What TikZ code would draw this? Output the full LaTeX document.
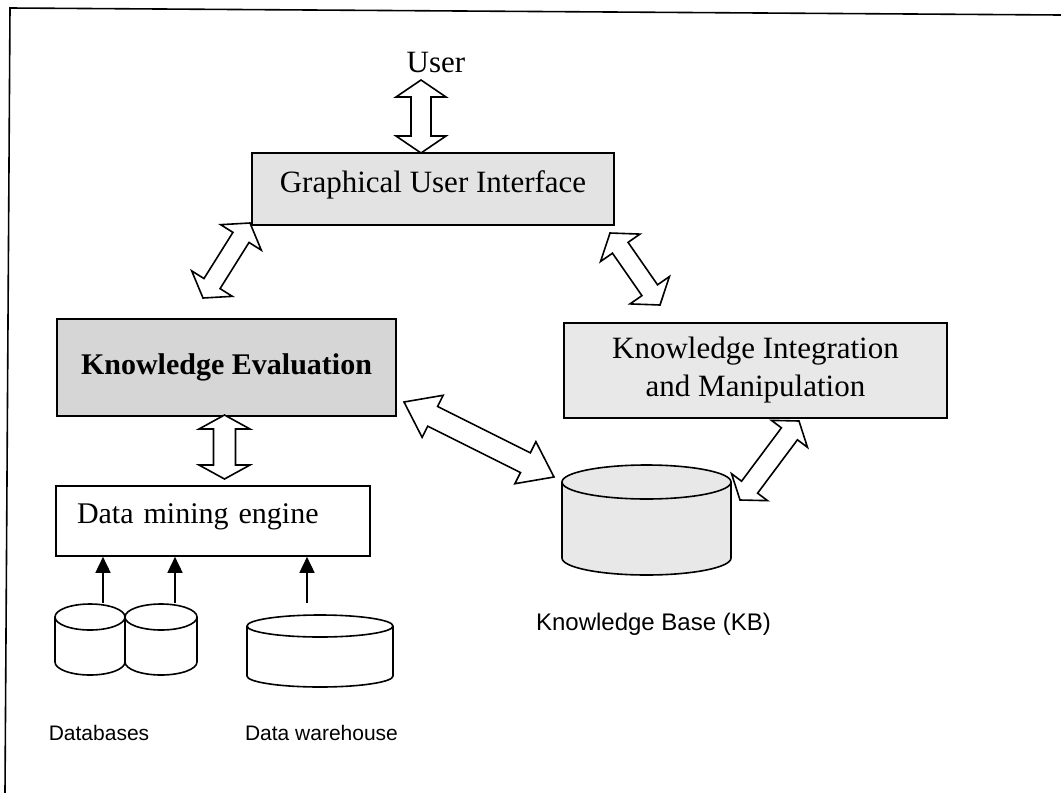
\documentclass[tikz,border=0pt]{standalone}
\usepackage{fontspec}
\setmainfont{Liberation Serif}
\setsansfont{Liberation Sans}
\usetikzlibrary{calc,arrows.meta}

% fat double arrow: #1 A, #2 B, #3 head length, #4 head half width, #5 shaft half width
\newcommand\fatarrow[5]{%
  \path ($(#1)!#3!(#2)$) coordinate (fa1) ($(#2)!#3!(#1)$) coordinate (fb1);
  \draw[fat] (#1) -- ($(fa1)!#4!90:(#2)$) -- ($(fa1)!#5!90:(#2)$)
    -- ($(fb1)!#5!-90:(#1)$) -- ($(fb1)!#4!-90:(#1)$) -- (#2)
    -- ($(fb1)!#4!90:(#1)$) -- ($(fb1)!#5!90:(#1)$)
    -- ($(fa1)!#5!-90:(#2)$) -- ($(fa1)!#4!-90:(#2)$) -- cycle;
}
% cylinder: #1 cx, #2 rx, #3 y of top ellipse centre, #4 y of bottom ellipse centre, #5 ry, #6 fill
\newcommand\cyl[6]{%
  \filldraw[cylline, fill=#6] ({#1-#2},#3) -- ({#1-#2},#4)
    arc[start angle=180,end angle=360,x radius=#2pt,y radius=#5pt]
    -- ({#1+#2},#3)
    arc[start angle=0,end angle=180,x radius=#2pt,y radius=#5pt] -- cycle;
  \draw[cylline] ({#1-#2},#3) arc[start angle=180,end angle=360,x radius=#2pt,y radius=#5pt];
}

\begin{document}
\begin{tikzpicture}[x=1pt,y=-1pt,
  box/.style={draw=black, line width=1.6pt, inner sep=0pt, text=black},
  serifbig/.style={font=\fontsize{31}{38}\selectfont},
  serifmid/.style={font=\fontsize{30}{36}\selectfont},
  sanslab/.style={font=\sffamily\fontsize{24}{28}\selectfont},
  sanssmall/.style={font=\sffamily\fontsize{21}{25}\selectfont},
  fat/.style={draw=black, fill=white, line width=1.6pt, line join=miter},
  cylline/.style={draw=black, line width=1.6pt},
  smallarr/.style={draw=black, line width=1.6pt, -{Triangle[length=16pt,width=15pt]}},
  frame/.style={draw=black, line width=1.6pt}]
\useasboundingbox (0,0) rectangle (1061,793);
\fill[white] (0,0) rectangle (1061,793);

% frame of the scanned page
\coordinate (f0) at (10,8);
\coordinate (f1) at (1061,15);
\coordinate (f2) at (5,793);
\draw[frame] (f1) -- (f0) -- (f2);

% boxes
\node[box, fill=black!11, minimum width=362pt, minimum height=72pt, serifbig, text depth=14.5pt]
  (gui) at (433,189) {Graphical User Interface};
\node[box, fill=black!16, minimum width=339pt, minimum height=97pt, font=\bfseries\fontsize{30}{36}\selectfont]
  (ke) at (226.5,367.5) {Knowledge Evaluation};
\node[box, fill=black!9, minimum width=383pt, minimum height=95pt, serifbig, align=center]
  (kim) at (755.5,370.5) {Knowledge Integration\\and Manipulation};
\node[box, fill=white, minimum width=314pt, minimum height=70pt, serifmid,
      text width=272pt, inner xsep=21pt, align=left, text depth=15.5pt]
  (dme) at (213,521) {Data mining engine};

% labels
\node[serifbig, anchor=base] (user) at (436,72) {User};
\node[sanslab, anchor=base] (kblabel) at (653.5,630) {Knowledge Base (KB)};
\node[sanssmall, anchor=base] (dblabel) at (99,740) {Databases};
\node[sanssmall, anchor=base] (dwlabel) at (321.5,740) {Data warehouse};

% cylinders
\cyl{90}{35}{617}{662}{13}{white}
\cyl{161}{36}{617}{662}{13}{white}
\cyl{320}{73}{626}{676}{11}{white}
\cyl{646.5}{84.5}{482}{558}{17}{black!9}
\coordinate (db1) at (103,603);
\coordinate (db2) at (175,603);
\coordinate (dw) at (307,603);
\coordinate (kb) at (646.5,482);

% small arrows into the data mining engine
\draw[smallarr] (db1) -- (db1 |- dme.south);
\draw[smallarr] (db2) -- (db2 |- dme.south);
\draw[smallarr] (dw) -- (dw |- dme.south);

% fat double arrows
\coordinate (ua) at (421,80);
\coordinate (ub) at (421,153);
\fatarrow{ua}{ub}{17pt}{25pt}{10pt}

\coordinate (gl) at (250,223);
\coordinate (kel) at (203,298);
\fatarrow{gl}{kel}{17pt}{24pt}{9.5pt}

\coordinate (gr) at (610,233);
\coordinate (kimt) at (660,305);
\fatarrow{gr}{kimt}{18pt}{24pt}{9.5pt}

\coordinate (keb) at (224.5,415);
\coordinate (dmet) at (224.5,479);
\fatarrow{keb}{dmet}{14pt}{25.5pt}{11pt}

\coordinate (ker) at (404,402);
\coordinate (kbl) at (554,477);
\fatarrow{ker}{kbl}{32pt}{23.5pt}{11pt}

\coordinate (kimb) at (799,421);
\coordinate (kbr) at (740,500);
\fatarrow{kimb}{kbr}{16pt}{22.5pt}{10pt}
\end{tikzpicture}
\end{document}
